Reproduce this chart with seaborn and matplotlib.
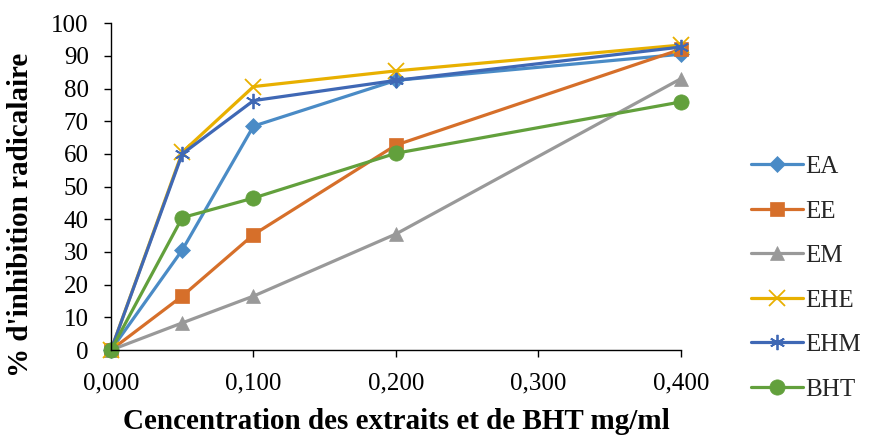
import matplotlib
matplotlib.use("Agg")
import matplotlib.pyplot as plt
import seaborn as sns
import numpy as np
from matplotlib.ticker import FuncFormatter, MultipleLocator

concentrations = [0.0, 0.05, 0.1, 0.2, 0.4]
series_names = ["EA", "EE", "EM", "EHE", "EHM", "BHT"]
EA = [0, 30.6, 68.5, 82.5, 90.5]
EE = [0, 16.5, 35.3, 62.7, 92.0]
EM = [0, 8.3, 16.5, 35.5, 83.0]
EHE = [0, 60.5, 80.6, 85.4, 93.3]
EHM = [0, 60.0, 76.3, 82.5, 92.7]
BHT = [0, 40.5, 46.5, 60.2, 75.9]
values = [EA, EE, EM, EHE, EHM, BHT]

colors = ["#4A8BC6", "#D66F2A", "#999999", "#E8B000", "#3F68B5", "#62A03C"]
markers = ["D", "s", "^", "x", (6, 2, 0), "o"]
msizes = [8.5, 10.5, 10, 11, 11, 11]

sns.set_style("white")
plt.rcParams["font.family"] = ["Liberation Serif", "DejaVu Serif"]

fig = plt.figure(figsize=(8.7, 4.37), dpi=100)
ax = fig.add_axes([0.1276, 0.199, 0.655, 0.748])

for name, vals, c, m, ms in zip(series_names, values, colors, markers, msizes):
    sns.lineplot(x=concentrations, y=vals, ax=ax, color=c, marker=m,
                 markersize=ms, linewidth=2.3, label=name, clip_on=False,
                 markeredgecolor=c, markeredgewidth=1.3 if m in ("x", (6, 2, 0)) else 0.5)

ax.set_xlim(0, 0.4)
ax.set_ylim(0, 100)
ax.xaxis.set_major_locator(MultipleLocator(0.1))
ax.yaxis.set_major_locator(MultipleLocator(10))
ax.xaxis.set_major_formatter(FuncFormatter(lambda v, p: f"{v:.3f}".replace(".", ",")))
ax.tick_params(axis="both", labelsize=18, direction="out", length=5, width=1,
               color="black", bottom=True, left=True, labelcolor="black")
ax.tick_params(axis="x", pad=11)
ax.tick_params(axis="y", pad=11)
for s in ["top", "right"]:
    ax.spines[s].set_visible(False)
for s in ["left", "bottom"]:
    ax.spines[s].set_color("black")
    ax.spines[s].set_linewidth(1)

ax.set_xlabel("Cencentration des extraits et de BHT mg/ml", fontsize=21,
              fontweight="bold", labelpad=10, color="black")
ax.set_ylabel("% d'inhibition radicalaire", fontsize=21, fontweight="bold",
              color="black")
ax.yaxis.set_label_coords(-0.135, 0.413)

leg = ax.legend(loc="center left", bbox_to_anchor=(1.083, 0.22), frameon=False,
                fontsize=18, handlelength=2.1, labelspacing=0.88,
                handletextpad=0.1, numpoints=1)

fig.savefig("out.png", dpi=100)
